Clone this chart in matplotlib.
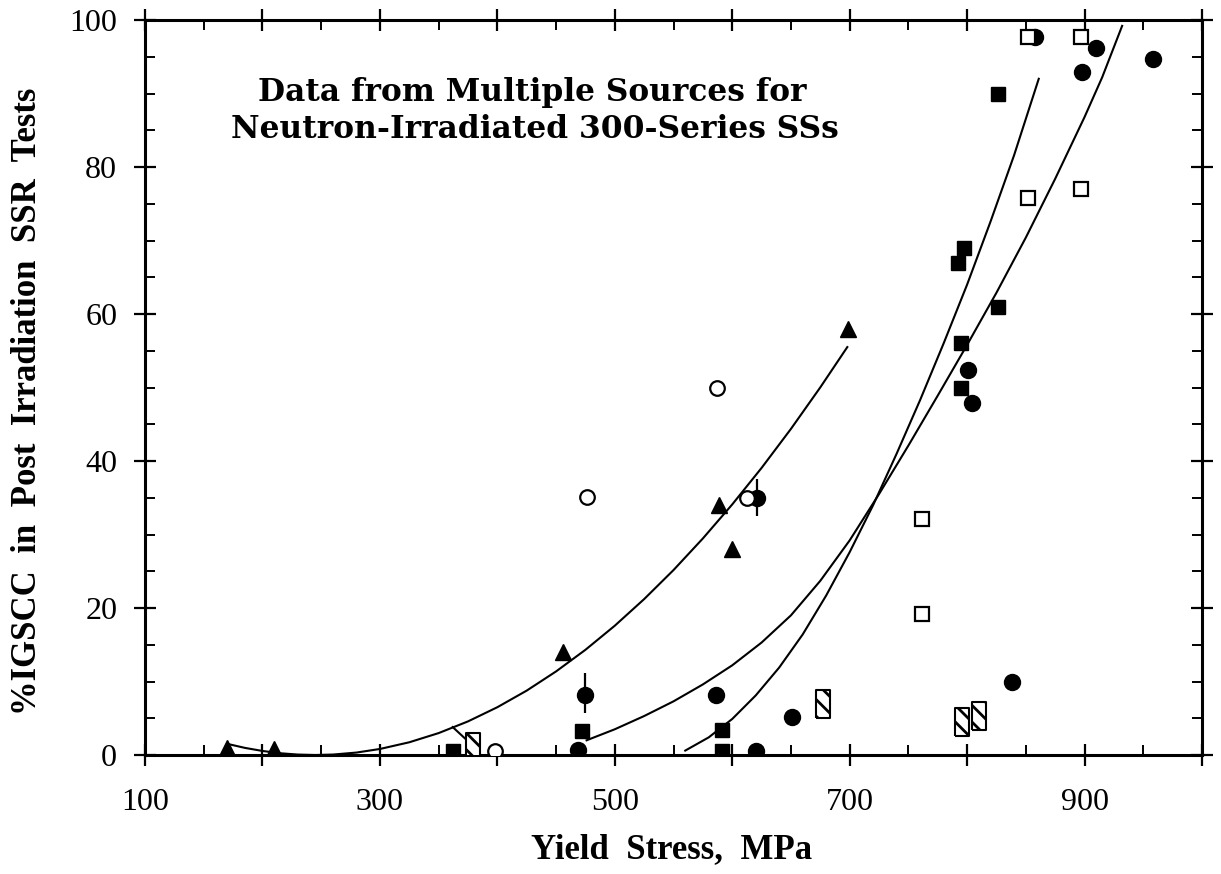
import numpy as np
import matplotlib.pyplot as plt
from matplotlib.ticker import MultipleLocator

plt.rcParams['hatch.linewidth'] = 2.0

# data points, yield stress (MPa) vs % IGSCC
tri_x = [170, 210, 456, 589, 600, 699]
tri_y = [1.0, 0.8, 14.0, 34.0, 28.0, 58.0]

ocirc_x = [398, 476, 587, 613]
ocirc_y = [0.6, 35.1, 50.0, 35.0]

fcirc_x = [469, 475, 586, 620, 621, 651, 801, 804, 838, 858, 898, 910, 958]
fcirc_y = [0.7, 8.2, 8.2, 0.6, 35.0, 5.2, 52.4, 47.9, 9.9, 97.7, 92.9, 96.2, 94.7]

fsq_x = [362, 472, 591, 591, 795, 795, 792, 797, 826, 826]
fsq_y = [0.6, 3.3, 3.4, 0.5, 50.0, 56.0, 67.0, 69.0, 61.0, 90.0]

osq_x = [762, 762, 852, 897, 852, 897]
osq_y = [32.1, 19.2, 97.7, 97.7, 75.8, 77.0]

hatch_x = [379, 677, 796, 810]
hatch_y = [1.1, 6.9, 4.5, 5.3]

# scatter bands on two of the filled circles
err_x = [475, 621]
err_lo = [5.7, 32.5]
err_hi = [11.1, 37.6]

# trend curves
c1_x = [170, 185, 200, 215, 230, 245, 260, 280, 300, 325, 350, 375, 400, 425,
        450, 475, 500, 525, 550, 575, 600, 625, 650, 675, 698]
c1_y = [1.52, 0.97, 0.55, 0.24, 0.06, 0.0, 0.06, 0.33, 0.82, 1.73, 2.98, 4.57,
        6.50, 8.76, 11.37, 14.31, 17.59, 21.21, 25.16, 29.46, 34.09, 39.06,
        44.37, 50.02, 55.5]

c2_x = [476, 500, 525, 550, 575, 600, 625, 650, 675, 700, 725, 750, 775, 800,
        825, 850, 875, 900, 915, 932]
c2_y = [2.0, 3.5, 5.3, 7.3, 9.6, 12.2, 15.3, 19.0, 23.7, 29.2, 35.5, 42.1,
        48.9, 55.8, 62.9, 70.4, 78.4, 86.8, 92.2, 99.2]

c3_x = [560, 580, 600, 620, 640, 660, 680, 700, 720, 740, 760, 780, 800, 820,
        840, 861]
c3_y = [0.6, 2.4, 4.9, 8.1, 11.9, 16.4, 21.7, 27.6, 34.0, 41.0, 48.3, 56.0,
        64.0, 72.6, 81.6, 92.0]

stub_x = [362, 385]
stub_y = [3.8, 0.4]

fig = plt.figure(figsize=(12.21, 8.74), dpi=100)
ax = fig.add_axes([145/1221, 1-755/874, 1057/1221, 735/874])

for cx, cy in [(c1_x, c1_y), (c2_x, c2_y), (c3_x, c3_y), (stub_x, stub_y)]:
    ax.plot(cx, cy, color='black', lw=1.5, zorder=2)

ax.vlines(err_x, err_lo, err_hi, color='black', lw=1.6, zorder=3)

ax.plot(tri_x, tri_y, '^', color='black', ms=12, ls='none', zorder=4)
ax.plot(fcirc_x, fcirc_y, 'o', color='black', ms=11.5, ls='none', zorder=4)
ax.plot(fsq_x, fsq_y, 's', color='black', ms=10.5, ls='none', zorder=4)
ax.plot(osq_x, osq_y, 's', mfc='white', mec='black', mew=1.6, ms=10.5,
        ls='none', zorder=5)
ax.plot(ocirc_x, ocirc_y, 'o', mfc='white', mec='black', mew=1.6, ms=10.5,
        ls='none', zorder=5)

rect = [(-0.5, -1), (0.5, -1), (0.5, 1), (-0.5, 1), (-0.5, -1)]
ax.scatter(hatch_x, hatch_y, marker=rect, s=20**2, facecolors='white',
           edgecolors='black', linewidths=1.5, hatch='\\\\', zorder=5)

ax.set_xlim(100, 1000)
ax.set_ylim(0, 100)
ax.set_xticks(np.arange(100, 1001, 100))
ax.set_xticklabels(['100', '', '300', '', '500', '', '700', '', '900', ''])
ax.set_yticks(np.arange(0, 101, 20))
ax.xaxis.set_minor_locator(MultipleLocator(50))
ax.yaxis.set_minor_locator(MultipleLocator(5))
ax.tick_params(which='major', direction='inout', length=16, width=1.6,
               top=True, right=True)
ax.tick_params(which='minor', direction='in', length=7, width=1.4,
               top=True, right=True)
ax.tick_params(axis='x', which='major', pad=16)
ax.tick_params(axis='y', which='major', pad=12)
for lab in ax.get_xticklabels() + ax.get_yticklabels():
    lab.set_fontfamily('Liberation Serif')
    lab.set_fontsize(23)
for sp in ax.spines.values():
    sp.set_linewidth(2.2)

fig.text(672/1221, 1-850/874, 'Yield  Stress,  MPa', ha='center', va='center',
         family='Liberation Serif', weight='bold', fontsize=25)
fig.text(28/1221, 1-401/874, '%IGSCC  in  Post  Irradiation  SSR  Tests',
         rotation=90, ha='center', va='center',
         family='Liberation Serif', weight='bold', fontsize=25)

fig.text(532/1221, 1-92/874, 'Data from Multiple Sources for', ha='center',
         va='center', family='DejaVu Serif', weight='bold', fontsize=22.5)
fig.text(535/1221, 1-130/874, 'Neutron-Irradiated 300-Series SSs',
         ha='center', va='center', family='DejaVu Serif', weight='bold',
         fontsize=22.5)

fig.savefig('out.png', dpi=100)
plt.close(fig)
